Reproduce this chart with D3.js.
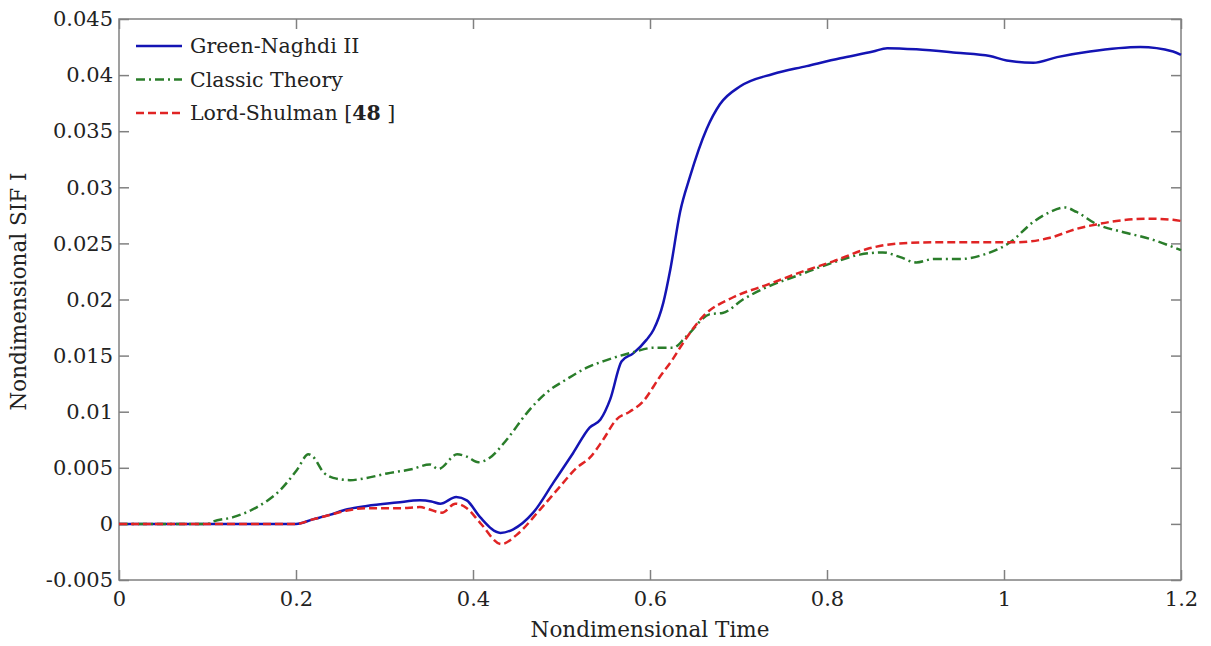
<!DOCTYPE html>
<html>
<head>
<meta charset="utf-8">
<script src="https://cdn.jsdelivr.net/npm/d3@7"></script>
<style>
  html, body { margin: 0; padding: 0; background: #fff; overflow: hidden; }
  svg { display: block; }
  .axis text { font-family: "DejaVu Serif", serif; font-size: 21px; fill: #222; }
  .axis line { stroke: #808080; stroke-width: 1.5; }
</style>
</head>
<body>
<div id="chart"></div>
<script>
// Green-Naghdi II
const timeGN = [0, 0.2, 0.219, 0.238, 0.258, 0.28, 0.314, 0.34, 0.353, 0.363, 0.381, 0.393, 0.408, 0.431, 0.445, 0.468, 0.491, 0.513, 0.532, 0.544, 0.555, 0.568, 0.581, 0.596, 0.604, 0.615, 0.623, 0.634, 0.645, 0.664, 0.679, 0.702, 0.739, 0.777, 0.815, 0.852, 0.868, 0.901, 0.946, 0.984, 1.003, 1.033, 1.06, 1.097, 1.154, 1.191, 1.2];
const valGN = [0, 0, 0.0004, 0.0008, 0.0013, 0.0016, 0.0019, 0.0021, 0.0020, 0.0018, 0.0024, 0.0021, 0.0006, -0.0008, -0.0005, 0.0010, 0.0037, 0.0063, 0.0086, 0.0093, 0.0111, 0.0145, 0.0152, 0.0164, 0.0173, 0.0197, 0.0227, 0.0278, 0.0309, 0.0352, 0.0374, 0.0390, 0.0401, 0.0408, 0.0415, 0.0421, 0.0424, 0.0423, 0.0420, 0.0417, 0.0413, 0.0411, 0.0416, 0.0421, 0.0425, 0.0421, 0.0418];

// Classic Theory
const timeCT = [0, 0.1, 0.106, 0.129, 0.156, 0.182, 0.201, 0.214, 0.219, 0.231, 0.242, 0.261, 0.28, 0.303, 0.332, 0.351, 0.361, 0.382, 0.393, 0.406, 0.419, 0.438, 0.461, 0.483, 0.506, 0.528, 0.551, 0.581, 0.604, 0.626, 0.641, 0.668, 0.682, 0.705, 0.732, 0.769, 0.807, 0.837, 0.863, 0.882, 0.901, 0.92, 0.95, 0.977, 1.007, 1.033, 1.052, 1.069, 1.082, 1.105, 1.135, 1.165, 1.2];
const valCT = [0, 0, 0.0002, 0.0006, 0.0015, 0.0030, 0.0048, 0.0062, 0.0060, 0.0046, 0.0041, 0.0039, 0.0041, 0.0045, 0.0049, 0.0053, 0.0049, 0.0062, 0.0060, 0.0055, 0.0059, 0.0075, 0.0099, 0.0117, 0.0129, 0.0139, 0.0146, 0.0153, 0.0157, 0.0157, 0.0167, 0.0187, 0.0188, 0.0200, 0.0211, 0.0222, 0.0233, 0.0240, 0.0242, 0.0238, 0.0233, 0.0236, 0.0236, 0.0240, 0.0251, 0.0269, 0.0278, 0.0282, 0.0278, 0.0267, 0.0260, 0.0254, 0.0244];

// Lord-Shulman
const timeLS = [0, 0.2, 0.219, 0.238, 0.258, 0.28, 0.318, 0.34, 0.35, 0.365, 0.38, 0.393, 0.408, 0.432, 0.449, 0.476, 0.498, 0.517, 0.532, 0.547, 0.562, 0.577, 0.592, 0.611, 0.625, 0.638, 0.66, 0.694, 0.732, 0.769, 0.807, 0.845, 0.882, 0.92, 0.958, 1.014, 1.052, 1.082, 1.105, 1.127, 1.165, 1.191, 1.2];
const valLS = [0, 0, 0.0004, 0.0008, 0.0012, 0.0014, 0.0014, 0.0015, 0.0013, 0.0010, 0.0018, 0.0014, 0.0001, -0.0018, -0.0010, 0.0013, 0.0033, 0.0050, 0.0059, 0.0075, 0.0093, 0.0100, 0.0109, 0.0131, 0.0146, 0.0162, 0.0185, 0.0202, 0.0213, 0.0224, 0.0234, 0.0245, 0.0250, 0.0251, 0.0251, 0.0251, 0.0255, 0.0263, 0.0267, 0.0270, 0.0272, 0.0271, 0.0270];

const xTicks = [0, 0.2, 0.4, 0.6, 0.8, 1, 1.2];
const yTicks = [-0.005, 0, 0.005, 0.01, 0.015, 0.02, 0.025, 0.03, 0.035, 0.04, 0.045];

const series = [
  { name: "Green-Naghdi II", t: timeGN, v: valGN, color: "#1414b4", dash: null },
  { name: "Classic Theory", t: timeCT, v: valCT, color: "#2a7d2a", dash: "9,4,2,4" },
  { name: "Lord-Shulman", t: timeLS, v: valLS, color: "#e02424", dash: "8,4" }
];

const width = 1211;
const height = 646;
const margin = { top: 19, right: 30, bottom: 66, left: 119 };
const innerWidth = width - margin.left - margin.right;
const innerHeight = height - margin.top - margin.bottom;

const svg = d3.select("#chart").append("svg")
  .attr("width", width)
  .attr("height", height)
  .append("g")
  .attr("transform", `translate(${margin.left},${margin.top})`);

const x = d3.scaleLinear().domain([0, 1.2]).range([0, innerWidth]);
const y = d3.scaleLinear().domain([-0.005, 0.045]).range([innerHeight, 0]);

const fmt = d => d === 0 ? "0" : String(+d.toFixed(3));

// Axes, ticks point inward on all four sides
svg.append("g")
  .attr("class", "axis")
  .attr("transform", `translate(0,${innerHeight})`)
  .call(d3.axisBottom(x).tickValues(xTicks).tickSize(-10).tickPadding(11).tickFormat(fmt))
  .call(g => g.select(".domain").remove());

svg.append("g")
  .attr("class", "axis")
  .call(d3.axisTop(x).tickValues(xTicks).tickSize(-10))
  .call(g => g.select(".domain").remove())
  .call(g => g.selectAll("text").remove());

svg.append("g")
  .attr("class", "axis")
  .call(d3.axisLeft(y).tickValues(yTicks).tickSize(-10).tickPadding(6).tickFormat(fmt))
  .call(g => g.select(".domain").remove());

svg.append("g")
  .attr("class", "axis")
  .attr("transform", `translate(${innerWidth},0)`)
  .call(d3.axisRight(y).tickValues(yTicks).tickSize(-10))
  .call(g => g.select(".domain").remove())
  .call(g => g.selectAll("text").remove());

svg.append("rect")
  .attr("width", innerWidth)
  .attr("height", innerHeight)
  .attr("fill", "none")
  .attr("stroke", "#808080")
  .attr("stroke-width", 1.5);

// Curves
const line = d3.line()
  .x(d => x(d[0]))
  .y(d => y(d[1]))
  .curve(d3.curveMonotoneX);

series.forEach(s => {
  svg.append("path")
    .datum(s.t.map((t, i) => [t, s.v[i]]))
    .attr("fill", "none")
    .attr("stroke", s.color)
    .attr("stroke-width", 2.5)
    .attr("stroke-dasharray", s.dash)
    .attr("d", line);
});

// Axis titles
svg.append("text")
  .attr("x", innerWidth / 2)
  .attr("y", innerHeight + 57)
  .attr("text-anchor", "middle")
  .attr("font-family", "DejaVu Serif, serif")
  .attr("font-size", "21.5px")
  .attr("fill", "#222")
  .text("Nondimensional Time");

svg.append("text")
  .attr("transform", `translate(${-margin.left + 26},${innerHeight / 2 - 8}) rotate(-90)`)
  .attr("text-anchor", "middle")
  .attr("font-family", "DejaVu Serif, serif")
  .attr("font-size", "21.5px")
  .attr("fill", "#222")
  .text("Nondimensional SIF I");

// Legend
const legend = svg.append("g").attr("transform", "translate(17,27)");
series.forEach((s, i) => {
  const lg = legend.append("g").attr("transform", `translate(0,${i * 33.5})`);
  lg.append("line")
    .attr("x1", 0).attr("x2", 46)
    .attr("stroke", s.color)
    .attr("stroke-width", 2.5)
    .attr("stroke-dasharray", s.dash);
  const txt = lg.append("text")
    .attr("x", 54)
    .attr("y", 7)
    .attr("font-family", "DejaVu Serif, serif")
    .attr("font-size", "20.5px")
    .attr("fill", "#222")
    .text(s.name);
  if (s.name === "Lord-Shulman") {
    txt.append("tspan").text(" [");
    txt.append("tspan").attr("font-weight", "bold").text("48");
    txt.append("tspan").text(" ]");
  }
});
</script>
</body>
</html>
